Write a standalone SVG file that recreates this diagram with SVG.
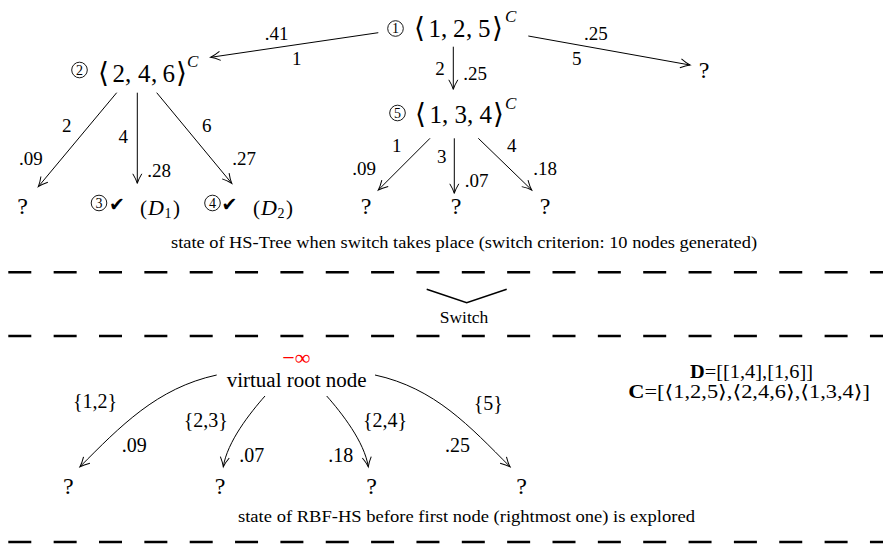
<svg xmlns="http://www.w3.org/2000/svg" width="883" height="544" viewBox="0 0 883 544" font-family="'Liberation Serif', 'DejaVu Serif', serif">
<style>
  .m { font-family: "Liberation Serif", "DejaVu Serif", serif; fill: #000; }
  .big { font-size: 25px; }
  .br { font-size: 28px; }
  .sup { font-size: 17px; font-style: italic; }
  .lbl { font-size: 19px; text-anchor: middle; }
  .lbl2 { font-size: 20px; text-anchor: middle; }
  .q { font-size: 24px; text-anchor: middle; }
  .cd { font-size: 14px; text-anchor: middle; }
  .cap { font-size: 16px; }
  .circ { fill: none; stroke: #000; stroke-width: 0.9; }
  .chk { font-family: "DejaVu Sans", sans-serif; font-size: 19px; }
  .edge { fill: none; stroke: #000; stroke-width: 1; marker-end: url(#arr); }
  .dash { stroke: #000; stroke-width: 2.4; stroke-dasharray: 23 22.35; }
</style>
<defs>
  <marker id="arr" markerUnits="userSpaceOnUse" markerWidth="14" markerHeight="14" refX="10" refY="5" orient="auto" overflow="visible">
    <path d="M0.5,0.5 Q6,3.8 10,5 Q6,6.2 0.5,9.5" fill="none" stroke="#000" stroke-width="1"/>
  </marker>
</defs>

<!-- connectors -->
<g id="connectors">
  <line class="edge" x1="378.3" y1="32.7" x2="210.7" y2="57.3"/>
  <line class="edge" x1="528.3" y1="36" x2="690" y2="65"/>
  <line class="edge" x1="453.3" y1="46.7" x2="453.3" y2="89.3"/>
  <line class="edge" x1="116.7" y1="92.7" x2="38.3" y2="186.7"/>
  <line class="edge" x1="137.3" y1="92.7" x2="137.3" y2="183.3"/>
  <line class="edge" x1="156.7" y1="92.7" x2="231.7" y2="183.3"/>
  <line class="edge" x1="430" y1="138.3" x2="378.3" y2="190"/>
  <line class="edge" x1="454.3" y1="138.3" x2="454.3" y2="193.3"/>
  <line class="edge" x1="478.3" y1="138.3" x2="531.7" y2="190"/>
  <path class="edge" d="M216.7,375 C156.7,388 120,426.7 80,466.7"/>
  <path class="edge" d="M265,396 C250,413 227.3,441.7 223.3,466.7"/>
  <path class="edge" d="M326.7,396 C341.7,413 364.3,441.7 368.3,466.7"/>
  <path class="edge" d="M375,375 C435,388 470,426.7 510,466.7"/>
  <!-- edge labels -->
  <text class="m lbl" x="276.7" y="40">.41</text>
  <text class="m lbl" x="296.7" y="65">1</text>
  <text class="m lbl" x="595.8" y="40">.25</text>
  <text class="m lbl" x="576.7" y="65">5</text>
  <text class="m lbl" x="440" y="75">2</text>
  <text class="m lbl" x="475" y="80">.25</text>
  <text class="m lbl" x="66.7" y="131.7">2</text>
  <text class="m lbl" x="30.8" y="165">.09</text>
  <text class="m lbl" x="123.3" y="143">4</text>
  <text class="m lbl" x="159" y="176.7">.28</text>
  <text class="m lbl" x="206.7" y="131.7">6</text>
  <text class="m lbl" x="244" y="165">.27</text>
  <text class="m lbl" x="396.7" y="151.7">1</text>
  <text class="m lbl" x="364" y="175">.09</text>
  <text class="m lbl" x="441.7" y="163">3</text>
  <text class="m lbl" x="476.7" y="186.7">.07</text>
  <text class="m lbl" x="511.7" y="151.7">4</text>
  <text class="m lbl" x="545" y="175">.18</text>
  <text class="m lbl2" x="95" y="408">{1,2}</text>
  <text class="m lbl2" x="134.2" y="451.7">.09</text>
  <text class="m lbl2" x="205.8" y="426.5">{2,3}</text>
  <text class="m lbl2" x="251.7" y="461.7">.07</text>
  <text class="m lbl2" x="385" y="426.5">{2,4}</text>
  <text class="m lbl2" x="340.8" y="461.7">.18</text>
  <text class="m lbl2" x="488.3" y="409.5">{5}</text>
  <text class="m lbl2" x="457.5" y="451.7">.25</text>
</g>

<!-- top HS-Tree -->
<g id="node1">
  <circle class="circ" cx="395.5" cy="28.5" r="7.8"/>
  <text class="m cd" x="395.5" y="33.3">1</text>
  <text class="m big" y="36.5"><tspan class="br" x="414">⟨</tspan><tspan x="428.5">1</tspan><tspan x="441">,</tspan><tspan x="453">2</tspan><tspan x="466">,</tspan><tspan x="478">5</tspan><tspan class="br" x="492">⟩</tspan></text>
  <text class="m sup" x="505" y="22">C</text>
</g>
<g id="node2">
  <circle class="circ" cx="79.5" cy="70" r="7.8"/>
  <text class="m cd" x="79.5" y="74.8">2</text>
  <text class="m big" y="82"><tspan class="br" x="98">⟨</tspan><tspan x="112.5">2</tspan><tspan x="125">,</tspan><tspan x="138">4</tspan><tspan x="151">,</tspan><tspan x="162.5">6</tspan><tspan class="br" x="176">⟩</tspan></text>
  <text class="m sup" x="187" y="67">C</text>
</g>
<g id="node5">
  <circle class="circ" cx="397.5" cy="113" r="7.8"/>
  <text class="m cd" x="397.5" y="117.8">5</text>
  <text class="m big" y="123"><tspan class="br" x="415">⟨</tspan><tspan x="429.5">1</tspan><tspan x="442">,</tspan><tspan x="454.5">3</tspan><tspan x="467">,</tspan><tspan x="479.5">4</tspan><tspan class="br" x="493">⟩</tspan></text>
  <text class="m sup" x="505" y="109">C</text>
</g>
<g id="node3">
  <circle class="circ" cx="99" cy="203" r="7.8"/>
  <text class="m cd" x="99" y="207.8">3</text>
  <text class="chk" x="109" y="211">✔</text>
  <text class="m" font-size="21" y="214.5"><tspan x="140">(</tspan><tspan x="148" font-style="italic" font-size="22">D</tspan><tspan x="164.5" y="218" font-size="14">1</tspan><tspan x="173" y="214.5">)</tspan></text>
</g>
<g id="node4">
  <circle class="circ" cx="212.5" cy="203" r="7.8"/>
  <text class="m cd" x="212.5" y="207.8">4</text>
  <text class="chk" x="221.5" y="211">✔</text>
  <text class="m" font-size="21" y="214.5"><tspan x="253">(</tspan><tspan x="261" font-style="italic" font-size="22">D</tspan><tspan x="277.5" y="218" font-size="14">2</tspan><tspan x="286" y="214.5">)</tspan></text>
</g>
<g id="q-top-right"><text class="m q" x="704" y="77.5">?</text></g>
<g id="q-n2-left"><text class="m q" x="22.5" y="213.5">?</text></g>
<g id="q-n5-1"><text class="m q" x="366" y="213.5">?</text></g>
<g id="q-n5-2"><text class="m q" x="456" y="213.5">?</text></g>
<g id="q-n5-3"><text class="m q" x="545" y="213.5">?</text></g>

<text class="m cap" x="171" y="248" textLength="586" lengthAdjust="spacingAndGlyphs">state of HS-Tree when switch takes place (switch criterion: 10 nodes generated)</text>

<!-- separators -->
<line class="dash" x1="8.3" y1="272.3" x2="883" y2="272.3"/>
<polyline points="426.7,289.3 466.7,302.7 506.7,289.3" fill="none" stroke="#000" stroke-width="1.5"/>
<text class="m" font-size="17.5" x="464" y="323" text-anchor="middle">Switch</text>
<line class="dash" x1="8.3" y1="336" x2="883" y2="336"/>

<!-- RBF-HS -->
<g id="root">
  <text class="m" font-size="22" x="296.3" y="365" text-anchor="middle" style="fill:#ff0000">−∞</text>
  <text class="m" font-size="20.5" x="226.7" y="386.5" textLength="140" lengthAdjust="spacingAndGlyphs">virtual root node</text>
</g>
<g id="q-b1"><text class="m q" x="68.3" y="493.5">?</text></g>
<g id="q-b2"><text class="m q" x="220" y="493.5">?</text></g>
<g id="q-b3"><text class="m q" x="371.7" y="493.5">?</text></g>
<g id="q-b4"><text class="m q" x="521.7" y="493.5">?</text></g>

<g id="sets">
  <text class="m" font-size="18.5" x="690" y="377.5" textLength="123" lengthAdjust="spacingAndGlyphs"><tspan font-weight="bold">D</tspan>=[[1,4],[1,6]]</text>
  <text class="m" font-size="18.5" x="628.3" y="398" textLength="241.7" lengthAdjust="spacingAndGlyphs"><tspan font-weight="bold">C</tspan>=[⟨1,2,5⟩,⟨2,4,6⟩,⟨1,3,4⟩]</text>
</g>

<text class="m cap" x="238" y="522" textLength="457" lengthAdjust="spacingAndGlyphs">state of RBF-HS before first node (rightmost one) is explored</text>
<line class="dash" x1="8.3" y1="542" x2="883" y2="542"/>
</svg>
